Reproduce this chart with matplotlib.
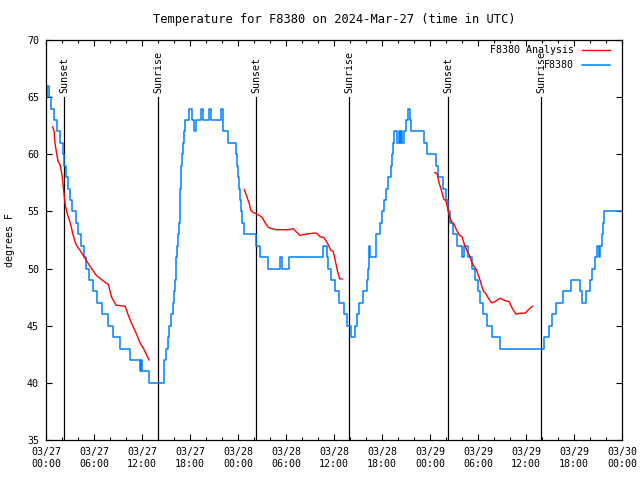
import matplotlib
matplotlib.use("Agg")
import matplotlib.pyplot as plt

# hours since 2024-03-27 00:00 UTC
obs_hours = [0.0, 0.1, 0.4, 0.6, 1.0, 1.4, 1.8, 2.1, 2.3, 2.5, 2.7, 3.0, 3.3, 3.7, 4.0, 4.4,
             4.8, 5.0, 5.4, 5.9, 6.4, 7.0, 7.7, 8.4, 9.2, 10.5, 11.75, 11.85, 11.95, 12.9,
             14.7, 14.8, 15.0, 15.2, 15.4, 15.6, 15.9, 16.0, 16.1, 16.2, 16.3, 16.4, 16.5,
             16.6, 16.7, 16.8, 16.9, 17.0, 17.1, 17.2, 17.4, 17.9, 18.3, 18.5, 18.7, 19.4,
             19.6, 20.4, 20.6, 21.9, 22.1, 22.8, 23.7, 23.9, 24.0, 24.1, 24.25, 24.4, 24.5,
             24.8, 26.3, 26.7, 27.8, 29.2, 29.5, 30.4, 34.6, 35.1, 35.3, 35.6, 36.1, 36.6,
             37.2, 37.6, 38.1, 38.3, 38.6, 38.85, 39.1, 39.6, 40.1, 40.2, 40.35, 40.5, 41.25,
             41.7, 42.0, 42.2, 42.5, 42.8, 43.1, 43.3, 43.4, 43.5, 43.9, 44.1, 44.2, 44.4,
             44.55, 44.7, 45.0, 45.25, 45.5, 45.6, 47.3, 47.6, 48.8, 49.0, 49.6, 50.0, 50.2,
             50.5, 50.9, 51.4, 52.0, 52.3, 52.7, 53.2, 53.6, 54.0, 54.2, 54.6, 55.1, 55.8,
             56.8, 62.3, 62.9, 63.2, 63.8, 64.6, 65.6, 66.7, 67.0, 67.5, 68.0, 68.3, 68.6,
             68.9, 69.1, 69.3, 69.45, 69.6, 69.8, 72.0]
obs_temp = [65, 66, 65, 64, 63, 62, 61, 60, 59, 58, 57, 56, 55, 54, 53, 52,
            51, 50, 49, 48, 47, 46, 45, 44, 43, 42, 41, 42, 41, 40,
            41, 42, 43, 44, 45, 46, 47, 48, 49, 50, 51, 52, 53,
            54, 56, 57, 59, 60, 61, 62, 63, 64, 63, 62, 63, 64,
            63, 64, 63, 64, 62, 61, 60, 59, 58, 57, 56, 55, 54,
            53, 52, 51, 50, 51, 50, 51, 52, 51, 50, 49, 48, 47,
            46, 45, 44, 44, 45, 46, 47, 48, 49, 50, 52, 51, 53,
            54, 55, 56, 57, 58, 59, 60, 61, 62, 61, 62, 61, 62,
            61, 62, 63, 64, 63, 62, 61, 60, 59, 58, 57, 56, 55,
            54, 53, 52, 51, 52, 51, 50, 49, 48, 47, 46, 45, 44,
            43, 44, 45, 46, 47, 48, 49, 48, 47, 48, 49, 50, 51,
            52, 51, 52, 53, 54, 55, 55]

an1_hours = [0.8, 1.0, 1.1, 1.3, 1.5, 1.75, 2.0, 2.2, 2.4, 2.7, 3.0, 3.4, 3.75, 4.25, 4.7,
             5.5, 6.3, 7.0, 7.8, 8.2, 8.75, 9.9, 10.3, 10.7, 11.3, 11.75, 12.2, 12.6, 12.9]
an1_temp = [62.4, 62.1, 61.1, 60.2, 59.4, 59.1, 58.2, 56.9, 55.6, 54.7, 54.1, 52.9, 52.1, 51.6, 51.1,
            50.2, 49.4, 49.0, 48.6, 47.5, 46.8, 46.7, 45.9, 45.2, 44.3, 43.5, 43.0, 42.4, 42.0]
an2_hours = [24.8, 25.1, 25.4, 25.6, 25.9, 26.3, 27.0, 27.4, 27.8, 28.2, 28.8, 30.4, 30.9,
             31.75, 32.4, 33.4, 33.8, 34.25, 34.75, 35.2, 35.6, 35.9, 36.1, 36.4, 36.7, 37.0]
an2_temp = [56.9, 56.3, 55.7, 55.1, 54.9, 54.8, 54.5, 54.0, 53.6, 53.5, 53.4, 53.4, 53.5,
            52.9, 53.0, 53.1, 53.1, 52.8, 52.7, 52.2, 51.6, 51.5, 50.9, 49.9, 49.1, 49.1]
an3_hours = [48.6, 48.9, 49.1, 49.4, 49.7, 50.0, 50.2, 50.5, 50.8, 51.0, 51.3, 51.7, 52.0,
             52.25, 52.6, 52.9, 53.2, 53.4, 53.8, 54.2, 54.5, 54.7, 55.0, 55.3, 55.7, 56.1,
             56.75, 57.4, 57.9, 58.3, 58.75, 59.25, 59.9, 60.3, 60.8]
an3_temp = [58.4, 58.3, 57.6, 56.9, 56.1, 55.9, 55.3, 54.4, 54.0, 53.9, 53.4, 52.9, 52.8,
            52.2, 51.6, 51.2, 50.6, 50.3, 49.9, 49.1, 48.4, 48.0, 47.8, 47.4, 47.0, 47.1,
            47.4, 47.2, 47.1, 46.5, 46.0, 46.1, 46.1, 46.4, 46.7]

sun_hours = [2.25, 14.0, 26.25, 37.9, 50.25, 61.9]
sun_names = ["Sunset", "Sunrise", "Sunset", "Sunrise", "Sunset", "Sunrise"]

tick_hours = list(range(0, 73, 6))
tick_labels = ["03/27\n00:00", "03/27\n06:00", "03/27\n12:00", "03/27\n18:00",
               "03/28\n00:00", "03/28\n06:00", "03/28\n12:00", "03/28\n18:00",
               "03/29\n00:00", "03/29\n06:00", "03/29\n12:00", "03/29\n18:00",
               "03/30\n00:00"]

plt.rcParams['font.family'] = ['DejaVu Sans Mono']
plt.rcParams['font.size'] = 7.2

fig = plt.figure(figsize=(6.4, 4.8), dpi=100)
ax = fig.add_axes([46 / 640, 40 / 480, 576 / 640, 400 / 480])

blue = '#0080ff'
red = '#ff0000'

for h, name in zip(sun_hours, sun_names):
    ax.plot([h, h], [35, 65], color='black', lw=0.9)
    ax.text(h, 65.35, name, rotation=90, ha='center', va='bottom')

ax.plot(obs_hours, obs_temp, color=blue, lw=1.1, drawstyle='steps-post')
ax.plot(an1_hours, an1_temp, color=red, lw=1.0)
ax.plot(an2_hours, an2_temp, color=red, lw=1.0)
ax.plot(an3_hours, an3_temp, color=red, lw=1.0)

ax.set_xlim(0, 72)
ax.set_ylim(35, 70)
ax.set_xticks(tick_hours)
ax.set_xticklabels(tick_labels)
ax.set_xticks(range(0, 73, 2), minor=True)
ax.set_yticks(range(35, 71, 5))
ax.tick_params(which='both', direction='in', top=True, right=True, width=0.8)
ax.tick_params(which='major', length=4.5, pad=5)
ax.tick_params(which='minor', length=2.5)
for s in ax.spines.values():
    s.set_linewidth(0.9)

ax.set_ylabel('degrees F', labelpad=9)
ax.set_title('Temperature for F8380 on 2024-Mar-27 (time in UTC)', pad=12)

# key, gnuplot style: right-justified text then line sample
ax.text(0.917, 0.975, 'F8380 Analysis', transform=ax.transAxes, ha='right', va='center')
ax.plot([0.930, 0.979], [0.975, 0.975], transform=ax.transAxes, color=red, lw=1.0)
ax.text(0.917, 0.9375, 'F8380', transform=ax.transAxes, ha='right', va='center')
ax.plot([0.930, 0.979], [0.9375, 0.9375], transform=ax.transAxes, color=blue, lw=1.1)

fig.savefig('out.png', dpi=100)
